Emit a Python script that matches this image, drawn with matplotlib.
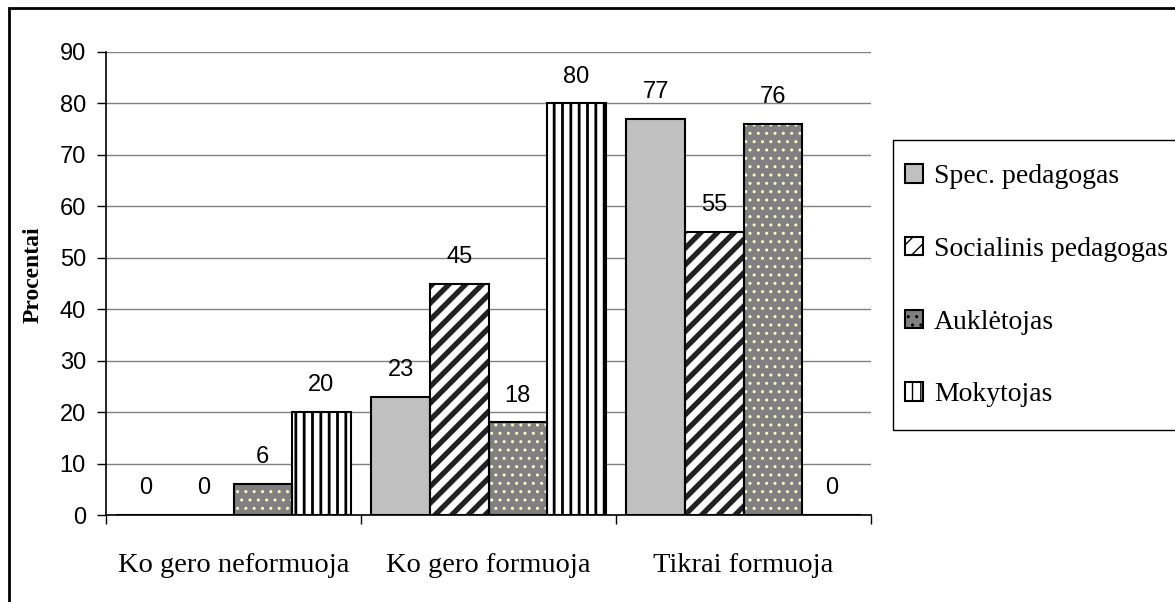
import matplotlib
matplotlib.use("Agg")
import matplotlib.pyplot as plt
from matplotlib.patches import Patch, Rectangle
import numpy as np

categories = ["Ko gero neformuoja", "Ko gero formuoja", "Tikrai formuoja"]
series = ["Spec. pedagogas", "Socialinis pedagogas", "Auklėtojas", "Mokytojas"]
values = [
    [0, 23, 77],   # Spec. pedagogas
    [0, 45, 55],   # Socialinis pedagogas
    [6, 18, 76],   # Auklėtojas
    [20, 80, 0],   # Mokytojas
]

# fill, hatch, hatch colour, hatch line width
styles = [
    ("#c0c0c0", None, "black", 1.0),
    ("white", "//", "#222222", 3.8),
    ("#808080", "..", "#ffffcc", 1.0),
    ("white", "||", "black", 2.0),
]

plt.rcParams["font.family"] = ["Liberation Sans", "DejaVu Sans"]
fig = plt.figure(figsize=(11.75, 6.02), dpi=100)
ax = fig.add_axes([106 / 1175, 1 - 515 / 602, 765 / 1175, 463 / 602])

x = np.arange(len(categories))
width = 0.23
for i, vals in enumerate(values):
    fc, hatch, hc, hlw = styles[i]
    pos = x + (i - 1.5) * width
    with plt.rc_context({"hatch.linewidth": hlw}):
        bars = ax.bar(pos, vals, width, color=fc, edgecolor=hc, linewidth=0,
                      hatch=hatch, zorder=2)
        for b in bars:
            if hasattr(b, "set_hatch_linewidth"):
                b.set_hatch_linewidth(hlw)
    ax.bar(pos, vals, width, fill=False, edgecolor="black", linewidth=1.5, zorder=3)
    for p, v in zip(pos, vals):
        ax.annotate(str(v), (p, v), xytext=(0, 15), textcoords="offset points",
                    ha="center", va="baseline", fontsize=17)

ax.set_xlim(-0.5, 2.5)
ax.set_ylim(0, 90)
ax.set_yticks(range(0, 91, 10))
ax.yaxis.grid(True, color="#808080", linewidth=1)
ax.set_axisbelow(True)
ax.tick_params(axis="y", labelsize=17, length=6.5, width=1, pad=8)
ax.set_xticks(x)
ax.set_xticklabels(categories, fontsize=20.5, family="Liberation Serif")
ax.set_xticks([-0.5, 0.5, 1.5, 2.5], minor=True)
ax.tick_params(axis="x", which="major", length=0, pad=27)
ax.tick_params(axis="x", which="minor", length=6.5, width=1)
for s in ["top", "right"]:
    ax.spines[s].set_visible(False)
ax.spines["left"].set_linewidth(1.2)
ax.spines["bottom"].set_linewidth(1.2)
ax.set_ylabel("Procentai", family="Liberation Serif", fontweight="bold", fontsize=17)
ax.yaxis.label.set_va("center")
ax.yaxis.set_label_coords(-0.095, 0.518)

handles = []
for fc, hatch, hc, hlw in styles:
    handles.append(Patch(facecolor=fc, edgecolor="black", hatch=hatch, linewidth=1.5))
leg = fig.legend(handles, series, loc="upper left",
                 bbox_to_anchor=(905 / 1175, 1 - 164 / 602),
                 prop={"family": "Liberation Serif", "size": 20},
                 frameon=False, labelspacing=1.72,
                 handlelength=0.65, handleheight=0.65,
                 handletextpad=0.4, borderpad=0, borderaxespad=0)

# legend box
fig.patches.append(Rectangle((893 / 1175, 1 - 430 / 602), 0.3, 290 / 602,
                             transform=fig.transFigure, fill=False,
                             edgecolor="black", linewidth=1))
# outer chart border
fig.patches.append(Rectangle((9 / 1175, -0.05), 1.2, 1 - 8 / 602 + 0.05,
                             transform=fig.transFigure, fill=False,
                             edgecolor="black", linewidth=2))

fig.savefig("out.png", dpi=100)
